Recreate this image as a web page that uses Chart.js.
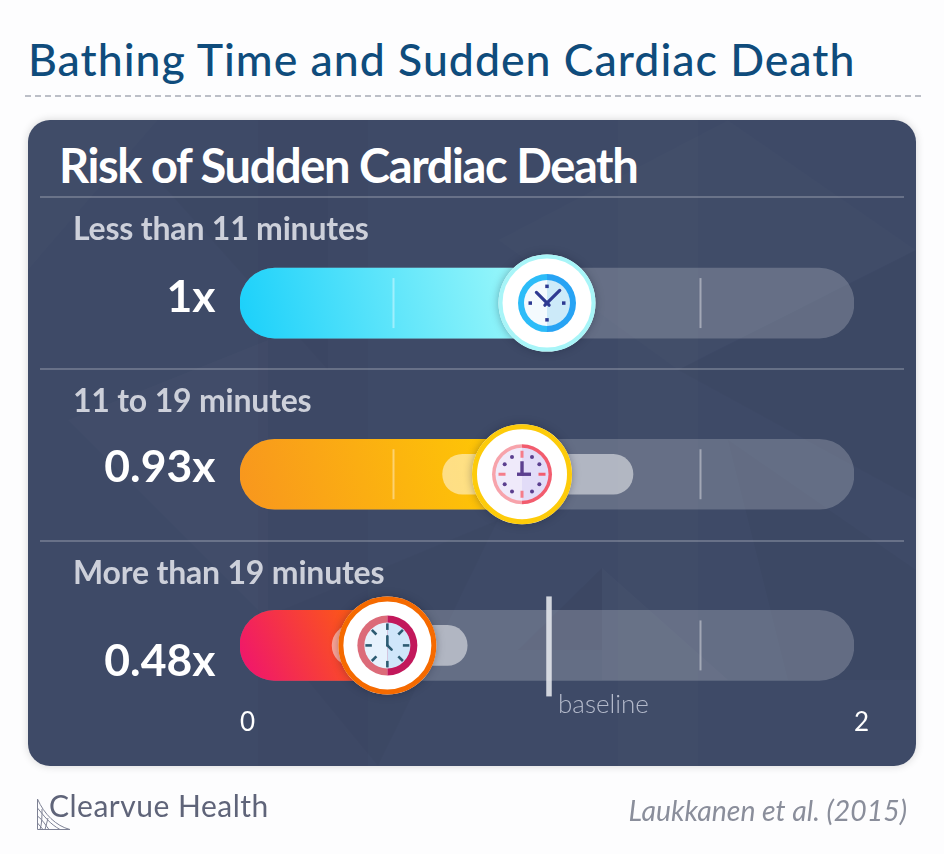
<!DOCTYPE html>
<html>
<head>
<meta charset="utf-8">
<title>Bathing Time and Sudden Cardiac Death</title>
<script src="https://cdn.jsdelivr.net/npm/chart.js@4"></script>
<style>
  html, body { margin: 0; padding: 0; background: #fdfdfe; }
  #page { position: relative; width: 944px; height: 854px; overflow: hidden; font-family: Lato, sans-serif; }
  #title { position: absolute; left: 28px; top: 32px; margin: 0; font-size: 44.6px; font-weight: 500; color: #0f4c7c; white-space: nowrap; letter-spacing: 1px; }
  #rule { position: absolute; left: 25px; top: 95px; width: 897px; height: 1.5px; background: repeating-linear-gradient(90deg, #bcbfc7 0 6px, transparent 6px 10px); }
  #panel { position: absolute; left: 28px; top: 120px; width: 888px; height: 646px; border-radius: 22px; background: #3e4a67; overflow: hidden; }
  #panelShadow { position: absolute; left: 28px; top: 120px; width: 888px; height: 646px; border-radius: 22px; box-shadow: 0 0 9px rgba(0,0,0,0.16); }
  #panel svg { position: absolute; left: 0; top: 0; }
  #heading { position: absolute; left: 59px; top: 137px; margin: 0; font-size: 47px; font-weight: 700; color: #fff; white-space: nowrap; letter-spacing: -1.4px; }
  #chartWrap { position: absolute; left: 0; top: 0; width: 944px; height: 854px; }
  #logo { position: absolute; left: 36px; top: 796px; }
  #brand { position: absolute; left: 49px; top: 787px; font-size: 30px; font-weight: 400; color: #5f6479; letter-spacing: 0.5px; white-space: nowrap; }
  #source { position: absolute; right: 37px; top: 793px; font-size: 28.4px; font-style: italic; color: #8a8e9b; white-space: nowrap; }
</style>
</head>
<body>
<div id="page">
  <h1 id="title">Bathing Time and Sudden Cardiac Death</h1>
  <div id="rule"></div>
  <div id="panelShadow"></div>
  <div id="panel">
    <svg width="888" height="646">
      <rect x="230" y="0" width="110" height="646" fill="#000000" opacity="0.015"/>
      <rect x="590" y="0" width="80" height="646" fill="#ffffff" opacity="0.012"/>
      <polygon points="0,0 130,0 0,150" fill="#ffffff" opacity="0.012"/>
      <polygon points="130,60 300,60 300,250" fill="#000000" opacity="0.02"/>
      <polygon points="470,120 700,0 888,130 650,250" fill="#ffffff" opacity="0.012"/>
      <polygon points="650,250 888,130 888,380" fill="#000000" opacity="0.02"/>
      <polygon points="40,300 240,220 240,500" fill="#ffffff" opacity="0.014"/>
      <polygon points="574,448 490,530 574,530" fill="#000000" opacity="0.03"/>
      <polygon points="574,448 700,560 574,560" fill="#ffffff" opacity="0.018"/>
      <polygon points="700,320 888,450 888,560 760,560" fill="#000000" opacity="0.025"/>
      <polygon points="230,500 470,400 350,646" fill="#000000" opacity="0.018"/>
    </svg>
  </div>
  <h2 id="heading">Risk of Sudden Cardiac Death</h2>
  <div id="chartWrap"><canvas id="riskChart" width="944" height="854"></canvas></div>
  <svg id="logo" width="36" height="36" fill="none" stroke="#7d8194" stroke-width="1">
    <path d="M1.5 3 V33.5 H34 C20 30 8 18 1.5 3 Z"/>
    <path d="M1.5 12 C8 20 14 28 24 33.5 M1.5 20 C7 24 10 30 13 33.5 M1.5 27 L7 33.5 M6 13 C6 20 6 28 4 33.5 M12 22 C11 26 10 30 9 33.5"/>
  </svg>
  <div id="brand">Clearvue Health</div>
  <div id="source">Laukkanen et al. (2015)</div>
</div>
<script>
const categories = ["Less than 11 minutes", "11 to 19 minutes", "More than 19 minutes"];
const tickLabels = ["1x", "0.93x", "0.48x"];
const riskValues = [1, 0.93, 0.48];
const trackValues = [2, 2, 2];
const intervalValues = [null, [0.66, 1.28], [0.30, 0.74]];
const axisTicks = [0, 2];
const innerTicks = [0.5, 1.5];
const baselineValue = 1;

// bar gradient ends and cap ring colour per row
const barColors = [
  ["#1ad0fa", "#a6fbfa"],
  ["#f8961e", "#ffcd02"],
  ["#ef1271", "#ff6a00"]
];
const ringColors = ["#a8f5f8", "#fdcb0a", "#f56a00"];

// row layout, the reference does not sit on an even grid
const HEADER_STEP = 172;
const valueLabelShift = [-5, -7, 16];
const capShift = [0, -3.5, 0];
const capRadius = [46.5, 47.5, 46.5];
const capStroke = [4, 5, 5];

function barGradient(context) {
  const chart = context.chart;
  const i = context.dataIndex;
  if (!chart.chartArea) return barColors[i][0];
  const x0 = chart.scales.x.getPixelForValue(0);
  const x1 = chart.scales.x.getPixelForValue(riskValues[i]);
  const yc = chart.scales.y.getPixelForValue(i);
  const g = chart.ctx.createLinearGradient(x0, yc + 35, x1, yc - 35);
  g.addColorStop(0, barColors[i][0]);
  g.addColorStop(1, barColors[i][1]);
  return g;
}

function halfDisc(ctx, cx, cy, r, left, color) {
  ctx.beginPath();
  ctx.arc(cx, cy, r, Math.PI / 2, Math.PI * 1.5, !left);
  ctx.closePath();
  ctx.fillStyle = color;
  ctx.fill();
}

function drawFace(ctx, cx, cy, ring, inner, rim, face) {
  halfDisc(ctx, cx, cy, ring, true, rim[0]);
  halfDisc(ctx, cx, cy, ring, false, rim[1]);
  halfDisc(ctx, cx, cy, inner, true, face[0]);
  halfDisc(ctx, cx, cy, inner, false, face[1]);
}

function spoke(ctx, cx, cy, angle, r0, r1, width, color) {
  const s = Math.sin(angle), c = Math.cos(angle);
  ctx.beginPath();
  ctx.moveTo(cx + s * r0, cy - c * r0);
  ctx.lineTo(cx + s * r1, cy - c * r1);
  ctx.lineWidth = width;
  ctx.strokeStyle = color;
  ctx.stroke();
}

const clockIcons = [
  function (ctx, cx, cy) {
    drawFace(ctx, cx, cy, 29, 23, ["#2cbcf8", "#27a3f4"], ["#f4fafe", "#cceaf9"]);
    const ink = "#2e3a92";
    for (let k = 0; k < 4; k++) spoke(ctx, cx, cy, k * Math.PI / 2, 15, 18.5, 3.5, ink);
    ctx.lineCap = "round";
    spoke(ctx, cx, cy, -Math.PI / 4, -3, 15, 3.2, ink);
    spoke(ctx, cx, cy, Math.PI / 4, -3, 18, 3.2, ink);
    ctx.lineCap = "butt";
  },
  function (ctx, cx, cy) {
    drawFace(ctx, cx, cy, 30, 26.5, ["#f7a3ab", "#f25c6e"], ["#efeafa", "#e2dcf8"]);
    for (let k = 0; k < 12; k++) {
      const a = k * Math.PI / 6;
      if (k % 3 === 0) {
        spoke(ctx, cx, cy, a, 16.5, 23.5, 3, k < 6 && k > 0 ? "#f25c6e" : "#f57d8a");
      } else {
        ctx.beginPath();
        ctx.arc(cx + Math.sin(a) * 20, cy - Math.cos(a) * 20, 2, 0, Math.PI * 2);
        ctx.fillStyle = "#5b3f8f";
        ctx.fill();
      }
    }
    spoke(ctx, cx, cy, 0, -1.5, 13, 3.4, "#5b3f8f");
    spoke(ctx, cx, cy, Math.PI / 2, -5, 9, 3.4, "#5b3f8f");
  },
  function (ctx, cx, cy) {
    drawFace(ctx, cx, cy, 30, 23, ["#dc6b79", "#c2185b"], ["#e6f2fd", "#cfe6fa"]);
    const ink = "#2c5b72";
    for (let k = 0; k < 8; k++) spoke(ctx, cx, cy, k * Math.PI / 4, 15.5, 22, 2.6, ink);
    ctx.lineCap = "round";
    spoke(ctx, cx, cy, 0, 0, 9, 2.6, ink);
    spoke(ctx, cx, cy, Math.PI * 0.75, 0, 6, 2.6, ink);
    ctx.lineCap = "butt";
  }
];

// separators, row names, value labels, inner ticks, baseline and clock caps
const riskDecorations = {
  id: "riskDecorations",
  beforeDatasetsDraw(chart) {
    const { ctx, scales: { y } } = chart;
    const firstRow = y.getPixelForValue(0);
    ctx.save();
    ctx.textBaseline = "middle";
    categories.forEach((name, i) => {
      const top = firstRow + i * HEADER_STEP;
      ctx.strokeStyle = "rgba(255,255,255,0.22)";
      ctx.lineWidth = 2;
      ctx.beginPath();
      ctx.moveTo(40, top - 106);
      ctx.lineTo(904, top - 106);
      ctx.stroke();
      ctx.fillStyle = "#cdd0da";
      ctx.font = "700 32px Lato, sans-serif";
      ctx.letterSpacing = "-0.2px";
      ctx.textAlign = "left";
      ctx.fillText(name, 73, top - 73);

      ctx.fillStyle = "#ffffff";
      ctx.font = "700 44.5px Lato, sans-serif";
      ctx.letterSpacing = "0px";
      ctx.textAlign = "right";
      ctx.fillText(tickLabels[i], 215.5, y.getPixelForValue(i) + valueLabelShift[i]);
    });
    ctx.restore();
  },
  afterDatasetsDraw(chart) {
    const { ctx, scales: { x, y } } = chart;
    ctx.save();
    categories.forEach((name, i) => {
      const yc = y.getPixelForValue(i);
      innerTicks.forEach(t => {
        const px = x.getPixelForValue(t);
        ctx.strokeStyle = "rgba(255,255,255,0.4)";
        ctx.lineWidth = 2;
        ctx.beginPath();
        ctx.moveTo(px, yc - 25);
        ctx.lineTo(px, yc + 25);
        ctx.stroke();
      });
    });
    const bx = x.getPixelForValue(baselineValue) + 2;
    const by = y.getPixelForValue(2);
    ctx.strokeStyle = "rgba(235,237,242,0.85)";
    ctx.lineWidth = 5.5;
    ctx.beginPath();
    ctx.moveTo(bx, by - 49);
    ctx.lineTo(bx, by + 51);
    ctx.stroke();
    ctx.fillStyle = "#b4bacb";
    ctx.font = "300 26px Lato, sans-serif";
    ctx.textAlign = "left";
    ctx.textBaseline = "middle";
    ctx.fillText("baseline", bx + 9, by + 59);

    riskValues.forEach((v, i) => {
      const cx = x.getPixelForValue(v) + capShift[i];
      const cy = y.getPixelForValue(i);
      ctx.save();
      ctx.shadowColor = "rgba(20,25,45,0.35)";
      ctx.shadowBlur = 8;
      ctx.beginPath();
      ctx.arc(cx, cy, capRadius[i] + capStroke[i] / 2, 0, Math.PI * 2);
      ctx.fillStyle = "#fff";
      ctx.fill();
      ctx.restore();
      ctx.beginPath();
      ctx.arc(cx, cy, capRadius[i], 0, Math.PI * 2);
      ctx.lineWidth = capStroke[i];
      ctx.strokeStyle = ringColors[i];
      ctx.stroke();
      clockIcons[i](ctx, cx, cy);
    });
    ctx.restore();
  }
};

new Chart(document.getElementById("riskChart"), {
  type: "bar",
  plugins: [riskDecorations],
  data: {
    labels: tickLabels,
    datasets: [
      {
        label: "Confidence interval",
        data: intervalValues,
        backgroundColor: "rgba(255,255,255,0.5)",
        barThickness: 40,
        borderRadius: 20,
        borderSkipped: false,
        order: 1
      },
      {
        label: "Relative risk",
        data: riskValues,
        backgroundColor: barGradient,
        barThickness: 70,
        borderRadius: 35,
        borderSkipped: false,
        order: 2
      },
      {
        label: "Scale",
        data: trackValues,
        backgroundColor: "rgba(255,255,255,0.2)",
        barThickness: 70,
        borderRadius: 35,
        borderSkipped: false,
        order: 3
      }
    ]
  },
  options: {
    indexAxis: "y",
    responsive: false,
    animation: false,
    grouped: false,
    layout: { padding: { left: 0, right: 90, top: 217.5, bottom: 123 } },
    plugins: { legend: { display: false }, tooltip: { enabled: false } },
    scales: {
      x: {
        type: "linear",
        position: { y: 2.36 },
        min: 0,
        max: 2,
        afterBuildTicks(scale) { scale.ticks = axisTicks.map(v => ({ value: v })); },
        border: { display: false },
        grid: { display: false, drawTicks: false },
        ticks: {
          align: "start",
          color: "#ffffff",
          padding: 0,
          maxRotation: 0,
          font: { family: "Lato, sans-serif", size: 26 }
        }
      },
      y: {
        afterFit(scale) { scale.width = 240; },
        border: { display: false },
        grid: { display: false, drawTicks: false },
        ticks: { display: false }
      }
    }
  }
});
</script>
</body>
</html>
